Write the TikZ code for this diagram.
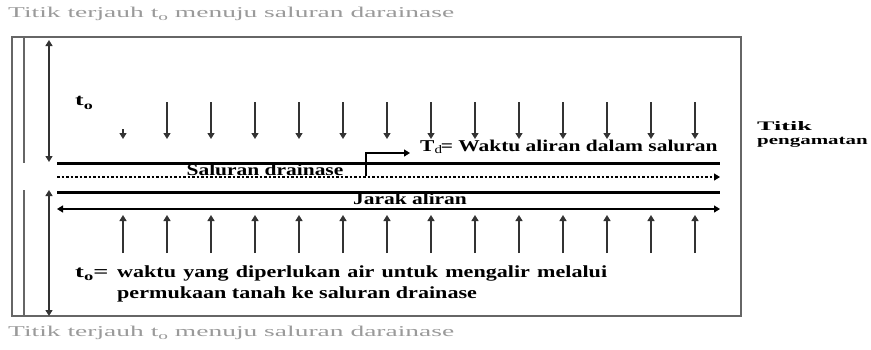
\documentclass[tikz,border=0pt]{standalone}
\usepackage{fontspec}
\usepackage{graphicx}
\setmainfont{Liberation Serif}[FakeStretch=1.3]
\usetikzlibrary{arrows.meta}
\definecolor{boxgray}{HTML}{666666}
\definecolor{capgray}{HTML}{9A9A9A}
\newcommand{\tsubo}{t\raisebox{-0.22em}{\scalebox{0.7}{o}}}
\tikzset{
  tipend/.style={-{Triangle[width=7pt,length=6pt]}},
  dtipend/.style={{Triangle[width=7pt,length=6pt]}-{Triangle[width=7pt,length=6pt]}},
  flow/.style={tipend, line width=1.4pt, draw=black!80},
  thickline/.style={line width=3pt},
  lbl/.style={inner sep=0pt, font=\fontsize{16.5}{20}\selectfont\bfseries},
  lblex/.style={inner sep=0pt, font=\fontsize{17}{20}\selectfont\bfseries},
  lblsmall/.style={inner sep=0pt, font=\fontsize{13}{15}\selectfont\bfseries},
  captext/.style={inner sep=0pt, text=capgray, font=\fontsize{15}{18}\selectfont}
}
\begin{document}
\begin{tikzpicture}[x=1pt,y=-1pt]
\useasboundingbox (0,0) rectangle (871,349);
% captions
\node[captext, anchor=west] (captop) at (8,14) {\scalebox{1.41}[1]{Titik terjauh \tsubo{} menuju saluran darainase}};
\node[captext, anchor=west] (capbot) at (8,333) {\scalebox{1.41}[1]{Titik terjauh \tsubo{} menuju saluran darainase}};
% frame
\draw[boxgray, line width=1.3pt] (12,37) rectangle (741,316);
\coordinate (i1) at (24,37); \coordinate (i2) at (24,163);
\coordinate (i3) at (24,190); \coordinate (i4) at (24,316);
\draw[boxgray, line width=1.3pt] (i1) -- (i2);
\draw[boxgray, line width=1.3pt] (i3) -- (i4);
% vertical double arrows
\coordinate (v1) at (49,40); \coordinate (v2) at (49,162);
\coordinate (v3) at (49,190); \coordinate (v4) at (49,316);
\draw[dtipend, line width=1.4pt, draw=black!80] (v1) -- (v2);
\draw[dtipend, line width=1.4pt, draw=black!80] (v3) -- (v4);
% channel lines
\coordinate (a1) at (57,163); \coordinate (a2) at (720,163);
\coordinate (b1) at (57,177); \coordinate (b2) at (720,177);
\coordinate (c1) at (57,192); \coordinate (c2) at (720,192);
\coordinate (d1) at (57,209); \coordinate (d2) at (720,209);
% labels on channel (drawn first, partly covered by lines)
\node[lbl] (sal) at (265,170) {Saluran drainase};
\node[lbl] (jarak) at (410,199) {Jarak aliran};
\draw[thickline] (a1) -- (a2);
\draw[thickline] (c1) -- (c2);
\draw[tipend, line width=1.2pt, dash pattern=on 2.5pt off 2pt] (b1) -- (b2);
\draw[dtipend, line width=1.2pt] (d1) -- (d2);
% bent arrow
\coordinate (k1) at (366,176); \coordinate (k2) at (366,153); \coordinate (k3) at (410,153);
\draw[tipend, line width=1.2pt] (k1) -- (k2) -- (k3);
\node[lbl, anchor=west] (td) at (420,147) {T$_\mathrm{d}$= Waktu aliran dalam saluran};
% t_o
\node[lbl, anchor=west] (to) at (75,103) {\scalebox{1.2}[1]{\tsubo}};
% down arrows
\coordinate (s1) at (123,129); \coordinate (s2) at (123,139);
\draw[flow] (s1) -- (s2);
\foreach \i in {0,...,12}{
  \coordinate (dn\i a) at (167+44*\i,102);
  \coordinate (dn\i b) at (167+44*\i,139);
  \draw[flow] (dn\i a) -- (dn\i b);
}
% up arrows
\foreach \i in {0,...,13}{
  \coordinate (up\i a) at (123+44*\i,253);
  \coordinate (up\i b) at (123+44*\i,215);
  \draw[flow] (up\i a) -- (up\i b);
}
% explanation
\node[lblex, anchor=base west] (ex1) at (75,277) {\makebox[42pt][l]{\scalebox{1.2}[1]{\tsubo=}}\makebox[490pt][s]{waktu yang diperlukan air untuk mengalir melalui}};
\node[lblex, anchor=base west] (ex2) at (117,298) {permukaan tanah ke saluran drainase};
% observation point
\node[lblsmall, anchor=base west] (tt1) at (757,130) {\scalebox{1.55}[1]{Titik}};
\node[lblsmall, anchor=base west] (tt2) at (757,144) {\scalebox{1.24}[1]{pengamatan}};
\end{tikzpicture}
\end{document}
